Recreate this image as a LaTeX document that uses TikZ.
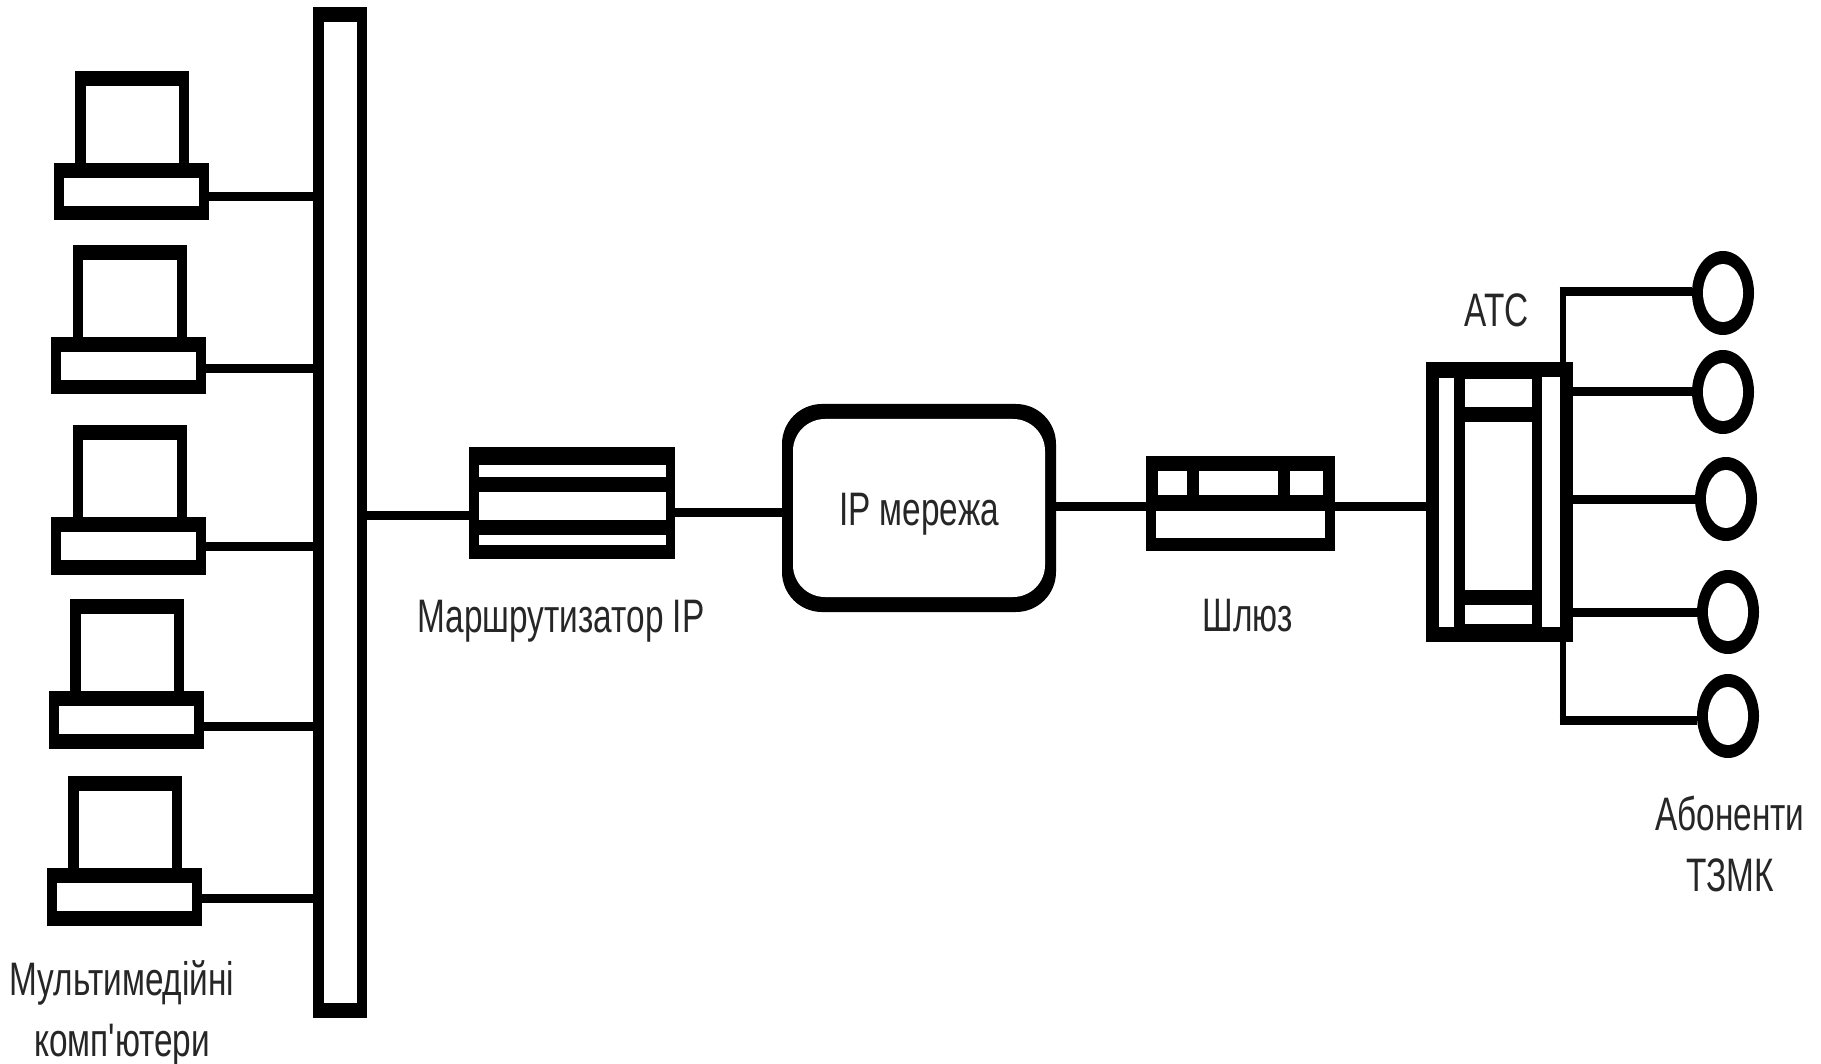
\documentclass[tikz,border=0pt]{standalone}
\usepackage{fontspec}
\newfontfamily\lblfont[FakeStretch=0.71]{Liberation Sans}
\usetikzlibrary{positioning}
\usetikzlibrary{shapes.geometric}
\tikzset{
    blk/.style={rectangle,fill=black,inner sep=0pt,outer sep=0pt},
    win/.style={fill=white},
    wire/.style={line width=9pt},
    stub/.style={line width=6pt},
    abon/.style={ellipse,fill=black,inner sep=0pt,outer sep=0pt,minimum width=62pt,minimum height=84pt},
    abonin/.style={ellipse,fill=white,inner sep=0pt,minimum width=40pt,minimum height=58pt},
    lbl/.style={inner sep=0pt,align=center,font=\lblfont\fontsize{47pt}{61pt}\selectfont,text=black!85}
}
\begin{document}
\begin{tikzpicture}[x=1pt,y=-1pt]
                \useasboundingbox (0,0) rectangle (1821,1064);
                \node[blk,minimum width=54pt,minimum height=1011pt] (bus) at (339.7,512.5) {};
                \fill[win] (323.5,22) rectangle (356.5,1003);
                % computers
                \foreach \i/\dx/\dy/\ly in {1/0/0/5.25,2/-2.3/174/3.25,3/-2.3/354/0.25,4/-4.6/528/6.25,5/-7/705/1.25} {
                    \begin{scope}[shift={(\dx,\dy)}]
                        \node[blk,minimum width=114pt,minimum height=92pt] (mon\i) at (132,117) {};
                        \fill[win] (85.5,86) rectangle (179,163);
                        \node[blk,minimum width=155pt,minimum height=57.5pt] (pc\i) at (131,191.75) {};
                        \fill[win] (63.5,178) rectangle (198.5,206);
                    \end{scope}
                    \coordinate (pl\i) at ([yshift=-\ly pt]pc\i.east);
                    \draw[wire] (pl\i) -- (pl\i -| bus.west);
                }
                % router
                \node[blk,minimum width=206.5pt,minimum height=112pt] (router) at (571.75,503) {};
                \fill[win] (479,465) rectangle (665.5,477);
                \fill[win] (479,492) rectangle (665.5,520);
                \fill[win] (479,535) rectangle (665.5,545);
                % ip network
                \node[blk,rounded corners=40pt,minimum width=274pt,minimum height=208pt] (ipouter) at (919,508) {};
                \node[rectangle,fill=white,inner sep=0pt,rounded corners=32pt,minimum width=252pt,minimum height=178pt] (ipnet) at (919,508) {};
                \node[lbl] (iplbl) at (919,514) {IP мережа};
                % gateway
                \node[blk,minimum width=189pt,minimum height=95pt] (gate) at (1240.5,503.5) {};
                \fill[win] (1158,471) rectangle (1187,495);
                \fill[win] (1199,471) rectangle (1278,495);
                \fill[win] (1290,471) rectangle (1323,495);
                \fill[win] (1156,511) rectangle (1325,538);
                % exchange
                \node[blk,minimum width=146.7pt,minimum height=280pt] (atc) at (1499.35,501.7) {};
                \fill[win] (1438.7,378) rectangle (1454,627);
                \fill[win] (1465,379) rectangle (1532,407);
                \fill[win] (1465,422) rectangle (1532,590);
                \fill[win] (1465,605) rectangle (1532,624);
                \fill[win] (1542,377) rectangle (1560,627);
                % subscribers
                \foreach \i/\ax/\ay in {1/1723/293,2/1723/392,3/1726/499,4/1728/612,5/1728/716} {
                    \node[abon] (ab\i) at (\ax,\ay) {};
                    \node[abonin] (abi\i) at (\ax,\ay) {};
                }
                % links
                \coordinate (rl) at ([yshift=-12pt]router.west);
                \coordinate (rr) at ([yshift=-9pt]router.east);
                \coordinate (gl) at ([yshift=-2.5pt]gate.west);
                \coordinate (gr) at ([yshift=-2.5pt]gate.east);
                \draw[wire] (bus.east |- rl) -- (rl);
                \draw[wire] (rr) -- (rr -| ipouter.west);
                \draw[wire] (gl -| ipouter.east) -- (gl);
                \draw[wire] (gr) -- (gr -| atc.west);
                \coordinate (atop) at (1562.7,292);
                \coordinate (abot) at (1562.7,720);
                \draw[stub] (atop |- atc.north) -- (atop);
                \draw[stub] (abot |- atc.south) -- (abot);
                \draw[wire] ([xshift=-3pt]atop) -- (atop -| ab1.west);
                \draw[wire] ([xshift=-3pt]abot) -- (abot -| ab5.west);
                \foreach \i in {2,3,4} {
                    \draw[wire] (ab\i.west -| atc.east) -- (ab\i.west);
                }
                % labels
                \node[lbl] (pclbl) at (122,1013) {Мультимедійні\\комп'ютери};
                \node[lbl] (rtlbl) at (561,621) {Маршрутизатор IP};
                \node[lbl] (gwlbl) at (1248,616) {Шлюз};
                \node[lbl] (atclbl) at (1497,310) {АТС};
                \node[lbl] (ablbl) at (1730,844) {Абоненти\\ТЗМК};
            \end{tikzpicture}
\end{document}
